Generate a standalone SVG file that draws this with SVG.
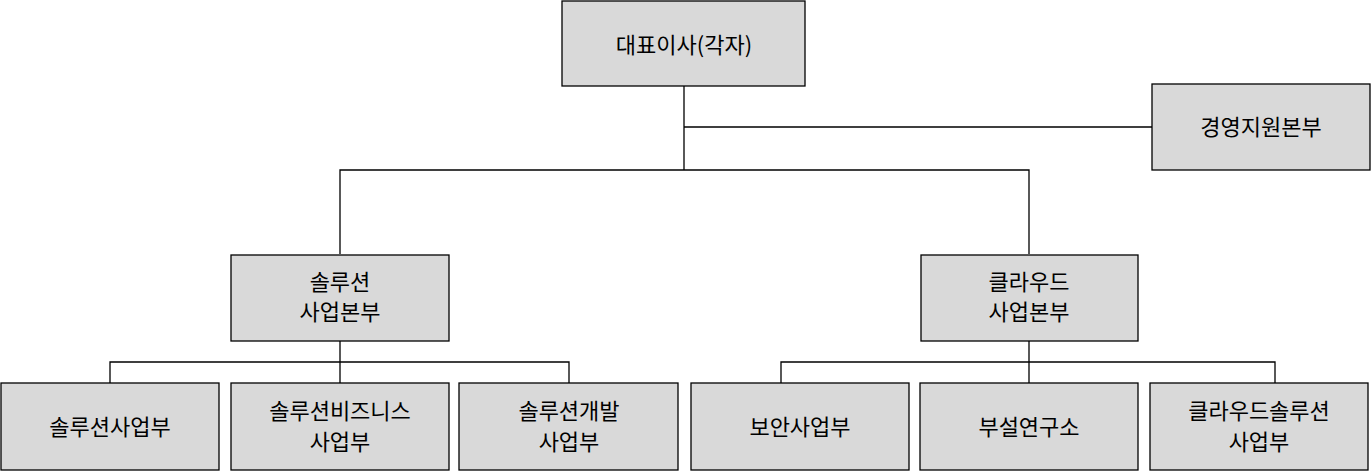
<svg xmlns="http://www.w3.org/2000/svg" width="1371" height="473" viewBox="0 0 1371 473">
<style>
.b{fill:#d9d9d9;stroke:#000;stroke-width:1.3}
.t{font-family:"Noto Sans CJK KR","Malgun Gothic",sans-serif;font-size:22px;fill:#000;text-anchor:middle}
.c{fill:none;stroke:#000;stroke-width:1.3}
</style>
<rect width="1371" height="473" fill="#fff"/>
<g id="connectors">
<path class="c" d="M684 86V170M684 127H1152M340 254V170H1029V254"/>
<path class="c" d="M340 341V362M110 383V362H569V383M340 362V383"/>
<path class="c" d="M1029 341V362M781 383V362H1275V383M1029 362V383"/>
</g>
<g id="ceo"><rect class="b" x="562" y="1" width="243" height="85"/><text class="t" x="684" y="53" font-size="26">대표이사(각자)</text></g>
<g id="mgmt"><rect class="b" x="1152" y="84" width="218" height="86"/><text class="t" x="1261" y="135">경영지원본부</text></g>
<g id="sol"><rect class="b" x="231" y="255" width="218" height="86"/><text class="t" x="340" y="290">솔루션</text><text class="t" x="340" y="320">사업본부</text></g>
<g id="cloud"><rect class="b" x="921" y="255" width="217" height="86"/><text class="t" x="1029" y="290">클라우드</text><text class="t" x="1029" y="320">사업본부</text></g>
<g id="n1"><rect class="b" x="1" y="383" width="218" height="87"/><text class="t" x="110" y="435">솔루션사업부</text></g>
<g id="n2"><rect class="b" x="231" y="383" width="218" height="87"/><text class="t" x="340" y="419">솔루션비즈니스</text><text class="t" x="340" y="450">사업부</text></g>
<g id="n3"><rect class="b" x="459" y="383" width="219" height="87"/><text class="t" x="569" y="419">솔루션개발</text><text class="t" x="569" y="450">사업부</text></g>
<g id="n4"><rect class="b" x="691" y="383" width="218" height="87"/><text class="t" x="800" y="435">보안사업부</text></g>
<g id="n5"><rect class="b" x="920" y="383" width="218" height="87"/><text class="t" x="1029" y="435">부설연구소</text></g>
<g id="n6"><rect class="b" x="1150" y="383" width="218" height="87"/><text class="t" x="1259" y="419">클라우드솔루션</text><text class="t" x="1259" y="450">사업부</text></g>
</svg>
